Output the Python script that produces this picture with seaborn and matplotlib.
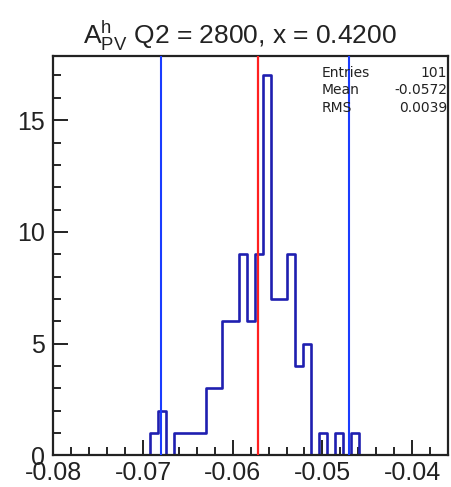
import numpy as np
import pandas as pd
import matplotlib
matplotlib.use("Agg")
import matplotlib.pyplot as plt
from matplotlib.ticker import MultipleLocator
import seaborn as sns

# Histogram definition: 49 uniform bins over [-0.08, -0.036]
x_min, x_max = -0.08, -0.036
n_bins = 49
first_bin = 12
counts = [1, 2, 0, 1, 1, 1, 1, 3, 3, 6, 6, 9, 6, 9, 17, 7, 7, 9, 4, 5, 0, 1, 0, 1, 0, 1]

stat_labels = ["Entries", "Mean", "RMS"]
stat_values = ["101", "-0.0572", "0.0039"]
mean_value = -0.0572
band_lines = [-0.068, -0.047]

edges = np.linspace(x_min, x_max, n_bins + 1)
width = edges[1] - edges[0]
centers = edges[first_bin:first_bin + len(counts)] + width / 2
df = pd.DataFrame({"x": centers, "n": counts})

sns.set_style("ticks")
plt.rcParams["font.family"] = ["Liberation Sans", "DejaVu Sans"]
plt.rcParams["mathtext.fontset"] = "custom"
plt.rcParams["mathtext.rm"] = "Liberation Sans"
plt.rcParams["mathtext.it"] = "Liberation Sans"
plt.rcParams["mathtext.bf"] = "Liberation Sans:bold"

fig = plt.figure(figsize=(4.52, 4.87), dpi=100)
ax = fig.add_axes([0.118, 0.065, 0.873, 0.819])

sns.histplot(data=df, x="x", weights="n", bins=n_bins, binrange=(x_min, x_max),
             element="step", fill=False, color="#1f1fb0", linewidth=1.9, ax=ax)

ax.axvline(mean_value, color="#ff2020", linewidth=1.6, zorder=3)
for v in band_lines:
    ax.axvline(v, color="#1a3cff", linewidth=1.5, zorder=3)

ax.set_xlim(x_min, x_max)
ax.set_ylim(0, max(counts) * 1.05)
ax.set_xlabel("")
ax.set_ylabel("")

ax.xaxis.set_minor_locator(MultipleLocator(0.002))
ax.yaxis.set_major_locator(MultipleLocator(5))
ax.yaxis.set_minor_locator(MultipleLocator(1))
ax.set_xticks([-0.08, -0.07, -0.06, -0.05, -0.04])
ax.set_xticklabels(["-0.08", "-0.07", "-0.06", "-0.05", "-0.04"])
ax.tick_params(axis="both", which="major", direction="in", length=11, width=1.4,
               labelsize=18, colors="#222222")
ax.tick_params(axis="both", which="minor", direction="in", length=6, width=1.4)
ax.tick_params(axis="x", pad=4)
ax.tick_params(axis="y", pad=6)
for s in ax.spines.values():
    s.set_linewidth(1.6)
    s.set_color("#222222")

fig.text(0.532, 0.926, r"$\mathrm{A^{h}_{PV}}$ Q2 = 2800, x = 0.4200",
         ha="center", va="center", fontsize=19, color="#222222")

row_y = [0.851, 0.815, 0.778]
for lab, val, yy in zip(stat_labels, stat_values, row_y):
    fig.text(0.712, yy, lab, ha="left", va="center", fontsize=10,
             family="DejaVu Sans", color="#222222")
    fig.text(0.989, yy, val, ha="right", va="center", fontsize=10,
             family="DejaVu Sans", color="#222222")

fig.savefig("out.png", dpi=100)
